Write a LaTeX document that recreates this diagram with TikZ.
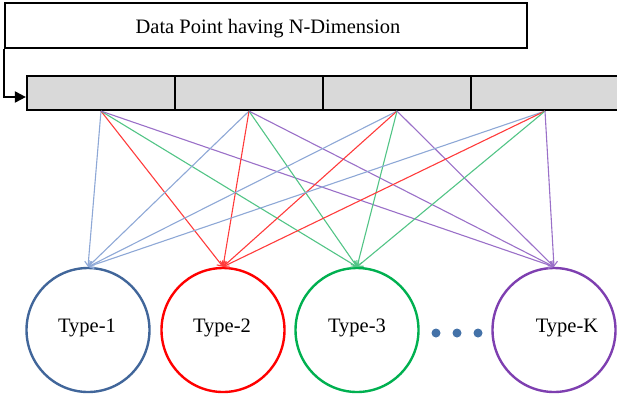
\documentclass[tikz,border=0pt]{standalone}
\usepackage{fontspec}
\setmainfont{Liberation Serif}
\usetikzlibrary{arrows.meta,calc,shapes.geometric}
\definecolor{lnblue}{HTML}{8EA8D6}
\definecolor{lnred}{HTML}{FF3B3B}
\definecolor{lngreen}{HTML}{52C486}
\definecolor{lnpurple}{HTML}{9A70C8}
\definecolor{cblue}{HTML}{41669A}
\definecolor{cred}{HTML}{FF0000}
\definecolor{cgreen}{HTML}{00B050}
\definecolor{cpurple}{HTML}{7E3FB0}
\definecolor{dotcol}{HTML}{4472A8}
\definecolor{barfill}{HTML}{D9D9D9}
\tikzset{
  titlebox/.style={draw=black, line width=1.5pt, rectangle, minimum width=522pt, minimum height=45pt, inner sep=0pt},
  cellbox/.style={draw=black, fill=barfill, line width=2.2pt, rectangle, minimum width=148pt, minimum height=34pt, inner sep=0pt},
  typecircle/.style={ellipse, line width=2.4pt, minimum width=123pt, minimum height=124pt, inner sep=0pt},
  typetext/.style={anchor=base, font=\fontsize{20.5}{24}\selectfont, inner sep=0pt},
  dotnode/.style={circle, fill=dotcol, minimum size=9pt, inner sep=0pt},
  conn/.style={line width=1.1pt, -{Straight Barb[length=4.5pt,width=7.5pt]}},
}
\begin{document}
\begin{tikzpicture}[x=1pt,y=-1pt]
\useasboundingbox (0,0) rectangle (617,394);
% title
\node[titlebox] (title) at (266,25.5) {};
\node[typetext] (titletext) at (268,33) {Data Point having N-Dimension};
% bar
\node[cellbox] (c1) at (101,93) {};
\node[cellbox] (c2) at (249,93) {};
\node[cellbox] (c3) at (397,93) {};
\node[cellbox] (c4) at (545,93) {};
% entry arrow
\draw[line width=2pt, -{Triangle[length=11pt,width=11pt]}] (title.south west) |- ([yshift=-4pt]c1.west);
% circles
\node[typecircle, draw=cblue] (k1) at (88,330) {};
\node[typecircle, draw=cred] (k2) at (223,330) {};
\node[typecircle, draw=cgreen] (k3) at (357,330) {};
\node[typecircle, draw=cpurple] (k4) at (554,330) {};
\node[typetext] (t1) at (87,332) {Type-1};
\node[typetext] (t2) at (222,332) {Type-2};
\node[typetext] (t3) at (357,332) {Type-3};
\node[typetext] (t4) at (567,332) {Type-K};
% dots
\node[dotnode] (d1) at (436,333) {};
\node[dotnode] (d2) at (457,333) {};
\node[dotnode] (d3) at (478,333) {};
% connectors
\foreach \s in {c1,c2,c3,c4}{
  \draw[conn, lnblue] (\s.south) -- (k1.north);
  \draw[conn, lnred] (\s.south) -- (k2.north);
  \draw[conn, lngreen] (\s.south) -- (k3.north);
  \draw[conn, lnpurple] (\s.south) -- (k4.north);
}
\end{tikzpicture}
\end{document}
